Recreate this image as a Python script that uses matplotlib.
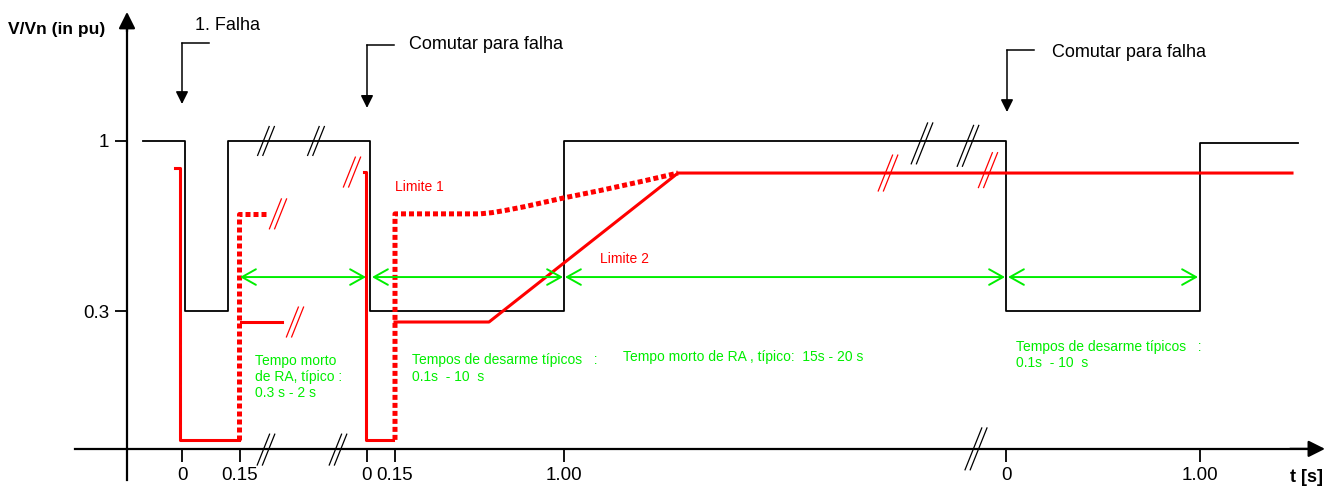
"""
Auto-reclose (RA) voltage sequence schematic: V/Vn vs. t with the
Limite 1 / Limite 2 curves and the typical dead / trip times.
"""

import matplotlib
matplotlib.use("Agg")
import matplotlib.pyplot as plt

# ── data (x = schematic time position, broken axis; y = V/Vn in pu) ──
# system voltage (black)
volt_x = [143, 185, 185, 228, 228, 370, 370, 564, 564, 1006, 1006, 1200, 1200, 1298]
volt_y = [1.0, 1.0, 0.3, 0.3, 1.0, 1.0, 0.3, 0.3, 1.0, 1.0, 0.3, 0.3, 0.99, 0.99]

# first fault, solid red
lim_a_x = [175, 180, 180, 239]
lim_a_y = [0.89, 0.89, -0.23, -0.23]
lim_a2_x = [241, 282]
lim_a2_y = [0.255, 0.255]
# first reclose, dotted red
lim_a_dot_x = [239, 239, 267]
lim_a_dot_y = [-0.23, 0.70, 0.70]

# second fault, solid red
lim_b_x = [364, 366, 366, 393]
lim_b_y = [0.872, 0.872, -0.23, -0.23]
# Limite 1 (dotted)
lim1_x = [395, 395, 480, 492, 505, 525, 563, 600, 640, 678]
lim1_y = [-0.23, 0.70, 0.70, 0.705, 0.714, 0.730, 0.765, 0.796, 0.832, 0.868]
# Limite 2 (solid)
lim2_x = [395, 489, 678, 1292]
lim2_y = [0.255, 0.255, 0.868, 0.868]

# green time spans
span_start = [240, 372, 565, 1008]
span_end = [366, 563, 1005, 1198]
span_level = 0.44

# axis ticks
xtick_pos = [182, 240, 367, 395, 564, 1006, 1200]
xtick_labels = ["0", "0.15", "0", "0.15", "1.00", "0", "1.00"]
ytick_pos = [0.3, 1.0]
ytick_labels = ["0.3", "1"]

# events with bent arrows
event_labels = ["1. Falha", "Comutar para falha", "Comutar para falha"]
event_x = [182, 367, 1007]
event_level = [1.403, 1.395, 1.374]
event_tip = [1.152, 1.136, 1.119]

# break marks "//": (x, y, height in px, colour)
breaks = [
    (266, 1.0, 30, "black"), (316, 1.0, 30, "black"),
    (922, 0.99, 42, "black"), (968, 0.98, 42, "black"),
    (278, 0.70, 31, "red"), (295, 0.255, 31, "red"), (352, 0.872, 31, "red"),
    (888, 0.868, 37, "red"), (988, 0.88, 36, "red"),
    (266, -0.270, 32, "black"), (338, -0.270, 32, "black"), (976, -0.267, 43, "black"),
]

RED = "#ff0000"
GREEN = "#00ee00"
PX = 1.0 / 243.0   # one pixel in pu

plt.rcParams.update({
    "font.family": ["Liberation Sans", "DejaVu Sans"],
})

fig = plt.figure(figsize=(13.32, 4.88), dpi=100)
ax = fig.add_axes([0, 0, 1, 1])
ax.set_xlim(0, 1332)
ax.set_ylim(-0.428, 1.580)

# ── axes as arrows ───────────────────────────────────────────────────
for side in ("top", "right"):
    ax.spines[side].set_visible(False)
ax.spines["left"].set_position(("data", 127))
ax.spines["left"].set_bounds(-0.395, 1.50)
ax.spines["bottom"].set_position(("data", -0.267))
ax.spines["bottom"].set_bounds(75, 1312)
for side in ("left", "bottom"):
    ax.spines[side].set_linewidth(1.6)

ax.annotate("", xy=(127, 1.531), xytext=(127, 1.45),
            arrowprops=dict(arrowstyle="-|>,head_length=0.5,head_width=0.25",
                            color="k", lw=1.6, shrinkA=0, shrinkB=0, mutation_scale=20))
ax.annotate("", xy=(1325, -0.267), xytext=(1290, -0.267),
            arrowprops=dict(arrowstyle="-|>,head_length=0.5,head_width=0.25",
                            color="k", lw=1.6, shrinkA=0, shrinkB=0, mutation_scale=20))

ax.set_xticks(xtick_pos, xtick_labels)
ax.set_yticks(ytick_pos, ytick_labels)
ax.tick_params(axis="both", direction="out", length=9, width=1.3, labelsize=13.5)
ax.tick_params(axis="x", pad=4)
ax.tick_params(axis="y", pad=4)

ax.text(8, 1.457, "V/Vn (in pu)", fontsize=12.5, fontweight="bold", va="center", ha="left")
ax.text(1290, -0.385, "t [s]", fontsize=13, fontweight="bold", va="center", ha="left")

# ── curves ───────────────────────────────────────────────────────────
ax.plot(volt_x, volt_y, color="k", lw=1.3, zorder=2)

ax.plot(lim_a_x, lim_a_y, color=RED, lw=2.2, zorder=3)
ax.plot(lim_a2_x, lim_a2_y, color=RED, lw=2.2, zorder=3)
ax.plot(lim_b_x, lim_b_y, color=RED, lw=2.2, zorder=3)
ax.plot(lim2_x, lim2_y, color=RED, lw=2.2, zorder=3)
for xs, ys in ((lim_a_dot_x, lim_a_dot_y), (lim1_x, lim1_y)):
    ax.plot(xs, ys, color=RED, lw=3.6, linestyle=(0, (1.0, 0.6)),
            dash_capstyle="butt", zorder=3)

for x0, x1 in zip(span_start, span_end):
    ax.annotate("", xy=(x1, span_level), xytext=(x0, span_level),
                arrowprops=dict(arrowstyle="<->,head_length=0.5,head_width=0.28",
                                color=GREEN, lw=1.4, shrinkA=0, shrinkB=0,
                                mutation_scale=20), zorder=4)

# ── break marks ──────────────────────────────────────────────────────
for bx, by, h, c in breaks:
    half = h / 2 * PX
    for off in (-2.6, 2.6):
        ax.plot([bx + off - 0.2 * h, bx + off + 0.2 * h], [by - half, by + half],
                color=c, lw=0.9, zorder=5, solid_capstyle="butt")

# ── event arrows ─────────────────────────────────────────────────────
text_pos = [(195, 1.477), (409, 1.395), (1052, 1.362)]
for lab, ex, lev, tip, (tx, ty) in zip(event_labels, event_x, event_level, event_tip, text_pos):
    ax.plot([ex, ex + 27], [lev, lev], color="k", lw=1.1)
    ax.annotate("", xy=(ex, tip), xytext=(ex, lev),
                arrowprops=dict(arrowstyle="-|>,head_length=0.5,head_width=0.25",
                                color="k", lw=1.1, shrinkA=0, shrinkB=0,
                                mutation_scale=15))
    ax.text(tx, ty, lab, fontsize=13, va="center", ha="left")

# ── labels ───────────────────────────────────────────────────────────
ax.text(395, 0.811, "Limite 1", color=RED, fontsize=10, va="center", ha="left")
ax.text(600, 0.514, "Limite 2", color=RED, fontsize=10, va="center", ha="left")

ax.text(255, 0.029, "Tempo morto\nde RA, típico :\n0.3 s - 2 s", color=GREEN,
        fontsize=10, va="center", ha="left", linespacing=1.2)
ax.text(412, 0.064, "Tempos de desarme típicos   :\n0.1s  - 10  s", color=GREEN,
        fontsize=10, va="center", ha="left", linespacing=1.35)
ax.text(623, 0.111, "Tempo morto de RA , típico:  15s - 20 s", color=GREEN,
        fontsize=10, va="center", ha="left")
ax.text(1016, 0.119, "Tempos de desarme típicos   :\n0.1s  - 10  s", color=GREEN,
        fontsize=10, va="center", ha="left", linespacing=1.15)

fig.savefig("out.png", dpi=100)
plt.close(fig)
